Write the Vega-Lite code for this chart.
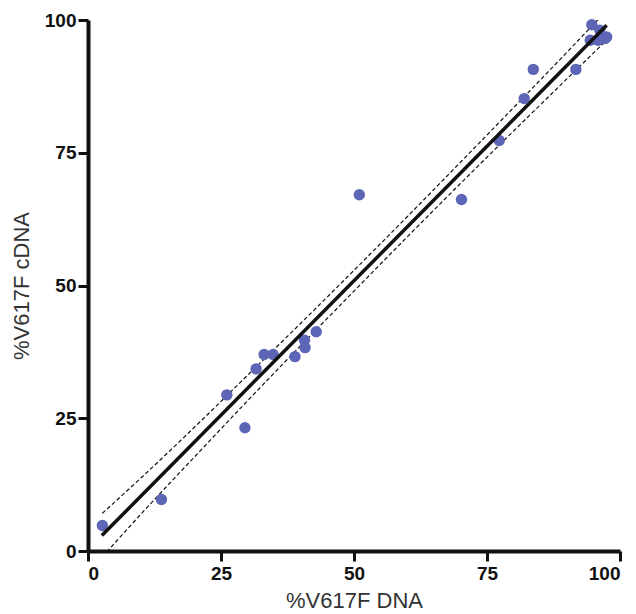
{
  "$schema": "https://vega.github.io/schema/vega-lite/v6.json",
  "autosize": "none",
  "width": 532,
  "height": 531,
  "padding": {"left": 88, "top": 20, "right": 16, "bottom": 63},
  "background": "white",
  "config": {
    "view": {"stroke": null},
    "axis": {
      "grid": false,
      "domainWidth": 4,
      "domainColor": "#111111",
      "tickWidth": 3,
      "tickColor": "#111111",
      "tickSize": 10,
      "labelFont": "Liberation Sans",
      "labelFontWeight": "bold",
      "labelFontSize": 19,
      "labelColor": "#111111",
      "titleFont": "Liberation Sans",
      "titleFontWeight": "normal",
      "titleFontSize": 22,
      "titleColor": "#333333"
    }
  },
  "datasets": {
    "points": [
      {"dna": 2.7, "cdna": 4.8}, {"dna": 13.8, "cdna": 9.7}, {"dna": 26.1, "cdna": 29.4},
      {"dna": 29.5, "cdna": 23.2}, {"dna": 31.6, "cdna": 34.3}, {"dna": 33.1, "cdna": 37.0},
      {"dna": 34.8, "cdna": 37.0}, {"dna": 38.9, "cdna": 36.6}, {"dna": 40.7, "cdna": 39.7},
      {"dna": 40.8, "cdna": 38.3}, {"dna": 42.9, "cdna": 41.3}, {"dna": 51.0, "cdna": 67.1},
      {"dna": 70.2, "cdna": 66.2}, {"dna": 77.3, "cdna": 77.3}, {"dna": 82.0, "cdna": 85.2},
      {"dna": 83.7, "cdna": 90.7}, {"dna": 91.7, "cdna": 90.7}, {"dna": 94.7, "cdna": 99.1},
      {"dna": 94.4, "cdna": 96.2}, {"dna": 95.9, "cdna": 96.2}, {"dna": 96.2, "cdna": 98.1},
      {"dna": 97.2, "cdna": 96.5}, {"dna": 97.5, "cdna": 96.8}
    ],
    "fit": [
      {"dna": 2.6, "cdna": 2.9},
      {"dna": 97.5, "cdna": 99.0}
    ],
    "band": [
      {"dna": 2.7, "upper": 7.1, "lower": -1.1},
      {"dna": 10, "upper": 13.8, "lower": 7.0},
      {"dna": 20, "upper": 23.3, "lower": 17.7},
      {"dna": 30, "upper": 33.1, "lower": 28.3},
      {"dna": 40, "upper": 42.9, "lower": 38.7},
      {"dna": 50, "upper": 52.85, "lower": 48.95},
      {"dna": 60, "upper": 62.95, "lower": 59.15},
      {"dna": 70, "upper": 73.2, "lower": 69.2},
      {"dna": 80, "upper": 83.5, "lower": 79.1},
      {"dna": 90, "upper": 93.9, "lower": 88.9},
      {"dna": 97.5, "upper": 101.8, "lower": 96.2}
    ]
  },
  "encoding": {
    "x": {
      "field": "dna", "type": "quantitative",
      "scale": {"domain": [0, 100], "nice": false, "zero": false},
      "axis": {"title": "%V617F DNA", "values": [0, 25, 50, 75, 100], "labelPadding": 3, "titlePadding": 7}
    }
  },
  "layer": [
    {
      "data": {"name": "band"},
      "mark": {"type": "line", "clip": true, "color": "#111111", "strokeWidth": 1.2, "strokeDash": [4, 2.5], "interpolate": "monotone"},
      "encoding": {
        "y": {"field": "upper", "type": "quantitative", "scale": {"domain": [0, 100], "nice": false}}
      }
    },
    {
      "data": {"name": "band"},
      "mark": {"type": "line", "clip": true, "color": "#111111", "strokeWidth": 1.2, "strokeDash": [4, 2.5], "interpolate": "monotone"},
      "encoding": {
        "y": {"field": "lower", "type": "quantitative"}
      }
    },
    {
      "data": {"name": "points"},
      "mark": {"type": "circle", "size": 130, "opacity": 1, "color": "#5d65b6"},
      "encoding": {
        "y": {
          "field": "cdna", "type": "quantitative",
          "scale": {"domain": [0, 100], "nice": false},
          "axis": {"title": "%V617F cDNA", "values": [0, 25, 50, 75, 100], "labelPadding": 2, "titlePadding": 11}
        }
      }
    },
    {
      "data": {"name": "fit"},
      "mark": {"type": "line", "clip": true, "color": "#111111", "strokeWidth": 3.5},
      "encoding": {
        "y": {"field": "cdna", "type": "quantitative"}
      }
    }
  ]
}
